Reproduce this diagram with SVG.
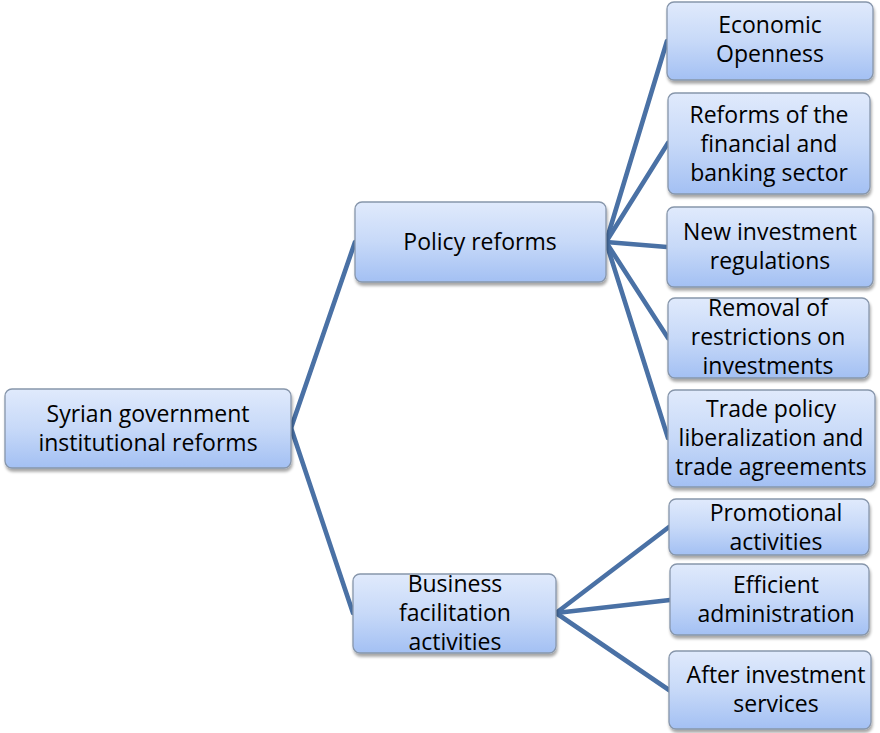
<svg xmlns="http://www.w3.org/2000/svg" width="880" height="733" viewBox="0 0 880 733">
  <defs>
    <linearGradient id="boxFill" x1="0" y1="0" x2="0" y2="1">
      <stop offset="0" stop-color="#e0eafc"/>
      <stop offset="0.5" stop-color="#c7d9f8"/>
      <stop offset="1" stop-color="#a3c0f3"/>
    </linearGradient>
    <filter id="shadow" x="-10%" y="-10%" width="125%" height="130%">
      <feGaussianBlur in="SourceAlpha" stdDeviation="1.6"/>
      <feOffset dx="1" dy="2.5" result="b"/>
      <feComponentTransfer><feFuncA type="linear" slope="0.35"/></feComponentTransfer>
      <feMerge><feMergeNode/><feMergeNode in="SourceGraphic"/></feMerge>
    </filter>
  </defs>
  <style>
    .box { fill: url(#boxFill); stroke: #8796ab; stroke-width: 1.3; filter: url(#shadow); }
    .lbl { font-family: "Open Sans", "Liberation Sans", Arial, sans-serif; font-size: 23px; fill: #000; text-anchor: middle; }
    .edge { stroke: #4a71a5; stroke-width: 4.6; fill: none; stroke-linecap: round; }
  </style>
  <rect width="880" height="733" fill="#fff"/>

  <!-- connectors -->
  <g id="connectors">
    <path class="edge" d="M291 428 L355 242"/>
    <path class="edge" d="M291 428 L353 613"/>
    <path class="edge" d="M606 242 L667 41"/>
    <path class="edge" d="M606 242 L668 143"/>
    <path class="edge" d="M606 242 L667 247"/>
    <path class="edge" d="M606 242 L668 338"/>
    <path class="edge" d="M606 242 L668 438"/>
    <path class="edge" d="M556 613 L669 527"/>
    <path class="edge" d="M556 613 L670 600"/>
    <path class="edge" d="M556 613 L669 690"/>
  </g>

  <!-- root -->
  <g id="root">
    <rect class="box" x="5" y="389" width="286" height="79" rx="7"/>
    <text class="lbl" x="148" y="422">Syrian government</text>
    <text class="lbl" x="148" y="451">institutional reforms</text>
  </g>

  <!-- second level -->
  <g id="policy">
    <rect class="box" x="355" y="202" width="251" height="80" rx="7"/>
    <text class="lbl" x="480" y="250">Policy reforms</text>
  </g>
  <g id="business">
    <rect class="box" x="353" y="574" width="203" height="79" rx="7"/>
    <text class="lbl" x="455" y="592">Business</text>
    <text class="lbl" x="455" y="621">facilitation</text>
    <text class="lbl" x="455" y="650">activities</text>
  </g>

  <!-- policy children -->
  <g id="economic">
    <rect class="box" x="667" y="2" width="206" height="78" rx="7"/>
    <text class="lbl" x="770" y="33">Economic</text>
    <text class="lbl" x="770" y="62">Openness</text>
  </g>
  <g id="financial">
    <rect class="box" x="668" y="93" width="202" height="101" rx="7"/>
    <text class="lbl" x="769" y="123">Reforms of the</text>
    <text class="lbl" x="769" y="152">financial and</text>
    <text class="lbl" x="769" y="181">banking sector</text>
  </g>
  <g id="investment">
    <rect class="box" x="667" y="207" width="206" height="80" rx="7"/>
    <text class="lbl" x="770" y="240">New investment</text>
    <text class="lbl" x="770" y="269">regulations</text>
  </g>
  <g id="removal">
    <rect class="box" x="668" y="298" width="201" height="80" rx="7"/>
    <text class="lbl" x="768" y="316">Removal of</text>
    <text class="lbl" x="768" y="345">restrictions on</text>
    <text class="lbl" x="768" y="374">investments</text>
  </g>
  <g id="trade">
    <rect class="box" x="668" y="390" width="207" height="97" rx="7"/>
    <text class="lbl" x="771" y="417">Trade policy</text>
    <text class="lbl" x="771" y="446">liberalization and</text>
    <text class="lbl" x="771" y="475">trade agreements</text>
  </g>

  <!-- business facilitation children -->
  <g id="promotional">
    <rect class="box" x="669" y="499" width="200" height="56" rx="7"/>
    <text class="lbl" x="776" y="521">Promotional</text>
    <text class="lbl" x="776" y="550">activities</text>
  </g>
  <g id="administration">
    <rect class="box" x="670" y="564" width="199" height="71" rx="7"/>
    <text class="lbl" x="776" y="593">Efficient</text>
    <text class="lbl" x="776" y="622">administration</text>
  </g>
  <g id="after">
    <rect class="box" x="669" y="651" width="202" height="78" rx="7"/>
    <text class="lbl" x="776" y="683">After investment</text>
    <text class="lbl" x="776" y="712">services</text>
  </g>
</svg>
